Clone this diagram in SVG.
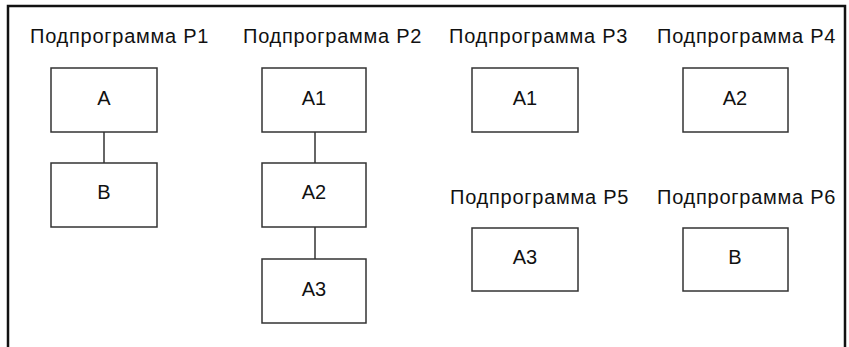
<svg xmlns="http://www.w3.org/2000/svg" width="849" height="347" viewBox="0 0 849 347">
<style>
.frame{fill:none;stroke:#111;stroke-width:2.5}
.box{fill:#fff;stroke:#333;stroke-width:1.5}
.lbl{font-family:"Liberation Sans",Arial,sans-serif;font-size:20px;letter-spacing:0.75px;fill:#111}
.t{font-family:"Liberation Sans",Arial,sans-serif;font-size:20px;fill:#111;text-anchor:middle}
.c{stroke:#333;stroke-width:1.5;fill:none}
</style>
<rect width="849" height="347" fill="#fff"/>
<path class="frame" d="M8,347 V6 H845 V347"/>
<g id="labels">
<text class="lbl" x="30" y="43">Подпрограмма P1</text>
<text class="lbl" x="243" y="43">Подпрограмма P2</text>
<text class="lbl" x="449" y="43">Подпрограмма P3</text>
<text class="lbl" x="657" y="43">Подпрограмма P4</text>
<text class="lbl" x="450" y="204">Подпрограмма P5</text>
<text class="lbl" x="657" y="204">Подпрограмма P6</text>
</g>
<g id="connectors">
<line class="c" x1="104" y1="132" x2="104" y2="163"/>
<line class="c" x1="315" y1="132" x2="315" y2="163"/>
<line class="c" x1="315" y1="227" x2="315" y2="259"/>
</g>
<g id="p1-A"><rect class="box" x="51" y="68" width="106" height="64"/><text class="t" x="104" y="105">A</text></g>
<g id="p1-B"><rect class="box" x="51" y="163" width="106" height="64"/><text class="t" x="104" y="199">B</text></g>
<g id="p2-A1"><rect class="box" x="262" y="68" width="104" height="64"/><text class="t" x="314" y="105">A1</text></g>
<g id="p2-A2"><rect class="box" x="262" y="163" width="104" height="64"/><text class="t" x="314" y="199">A2</text></g>
<g id="p2-A3"><rect class="box" x="262" y="259" width="104" height="64"/><text class="t" x="314" y="296">A3</text></g>
<g id="p3-A1"><rect class="box" x="472" y="68" width="106" height="64"/><text class="t" x="525" y="105">A1</text></g>
<g id="p4-A2"><rect class="box" x="683" y="68" width="105" height="64"/><text class="t" x="735" y="105">A2</text></g>
<g id="p5-A3"><rect class="box" x="472" y="228" width="106" height="63"/><text class="t" x="525" y="264">A3</text></g>
<g id="p6-B"><rect class="box" x="683" y="228" width="105" height="63"/><text class="t" x="735" y="264">B</text></g>
</svg>
